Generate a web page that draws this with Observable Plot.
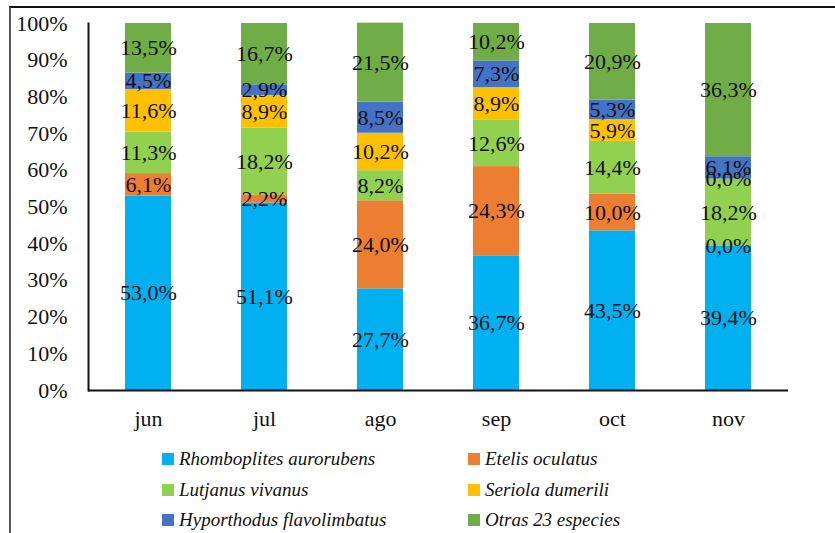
<!DOCTYPE html>
<html>
<head>
<meta charset="utf-8">
<script src="https://cdn.jsdelivr.net/npm/d3@7"></script>
<script src="https://cdn.jsdelivr.net/npm/@observablehq/plot@0.6"></script>
<style>
  body { margin: 0; background: #fff; }
  #wrap { position: relative; width: 835px; height: 533px; overflow: hidden; font-family: "Liberation Serif", "Times New Roman", serif; }
  #border { position: absolute; left: 9px; top: 6px; width: 840px; height: 540px; border-top: 2px solid #111; border-left: 2px solid #555; }
  #chart { position: absolute; left: 0; top: 0; }
  .item { position: absolute; height: 24px; line-height: 24px; display: flex; align-items: center; font-style: italic; font-size: 19px; color: #111; white-space: nowrap; }
  .sw { width: 12px; height: 12px; margin-right: 5px; flex: none; }
</style>
</head>
<body>
<div id="wrap">
  <div id="border"></div>
  <div id="chart"></div>
  <div id="legend"></div>
</div>
<script>
// Monthly catch composition by species (% of total)
const months = ["jun", "jul", "ago", "sep", "oct", "nov"];
const species = [
  "Rhomboplites aurorubens",
  "Etelis oculatus",
  "Lutjanus vivanus",
  "Seriola dumerili",
  "Hyporthodus flavolimbatus",
  "Otras 23 especies"
];
const colors = ["#00B0F0", "#ED7D31", "#92D050", "#FFC000", "#4472C4", "#70AD47"];

const rhomboplites = [53.0, 51.1, 27.7, 36.7, 43.5, 39.4];
const etelis       = [6.1, 2.2, 24.0, 24.3, 10.0, 0.0];
const lutjanus     = [11.3, 18.2, 8.2, 12.6, 14.4, 18.2];
const seriola      = [11.6, 8.9, 10.2, 8.9, 5.9, 0.0];
const hyporthodus  = [4.5, 2.9, 8.5, 7.3, 5.3, 6.1];
const otras        = [13.5, 16.7, 21.5, 10.2, 20.9, 36.3];

const yTicks = [0, 10, 20, 30, 40, 50, 60, 70, 80, 90, 100];

const series = [rhomboplites, etelis, lutjanus, seriola, hyporthodus, otras];
const rows = [];
species.forEach((s, i) => {
  months.forEach((m, j) => rows.push({month: m, species: s, value: series[i][j]}));
});

const fmt = v => v.toFixed(1).replace(".", ",") + "%";

const chart = Plot.plot({
  width: 835,
  height: 440,
  marginLeft: 88,
  marginRight: 47,
  marginTop: 23,
  marginBottom: 50,
  style: {fontFamily: "'Liberation Serif', 'Times New Roman', serif", fontSize: "22px", color: "#111", background: "transparent"},
  x: {domain: months, paddingInner: 0.6, paddingOuter: 0.3, label: null},
  y: {domain: [0, 100], label: null},
  color: {domain: species, range: colors},
  marks: [
    Plot.barY(rows, Plot.stackY({x: "month", y: "value", z: "species", fill: "species"})),
    Plot.text(rows, Plot.stackY({x: "month", y: "value", z: "species", text: d => fmt(d.value), fill: "#111", fontSize: 22})),
    Plot.axisX({tickSize: 0, tickPadding: 20, label: null}),
    Plot.axisY({ticks: yTicks, tickSize: 0, tickPadding: 21, tickFormat: d => d + "%", label: null}),
    Plot.frame({anchor: "left", stroke: "#111", strokeWidth: 2}),
    Plot.ruleY([0], {stroke: "#111", strokeWidth: 2})
  ]
});
document.getElementById("chart").append(chart);

// Two-column legend below the plot
const legend = document.getElementById("legend");
const colX = [162, 468];
const rowY = [459, 490, 520];
species.forEach((s, i) => {
  const item = document.createElement("div");
  item.className = "item";
  item.style.left = colX[i % 2] + "px";
  item.style.top = (rowY[Math.floor(i / 2)] - 12) + "px";
  const sw = document.createElement("span");
  sw.className = "sw";
  sw.style.background = colors[i];
  const label = document.createElement("span");
  label.textContent = s;
  item.append(sw, label);
  legend.append(item);
});
</script>
</body>
</html>
